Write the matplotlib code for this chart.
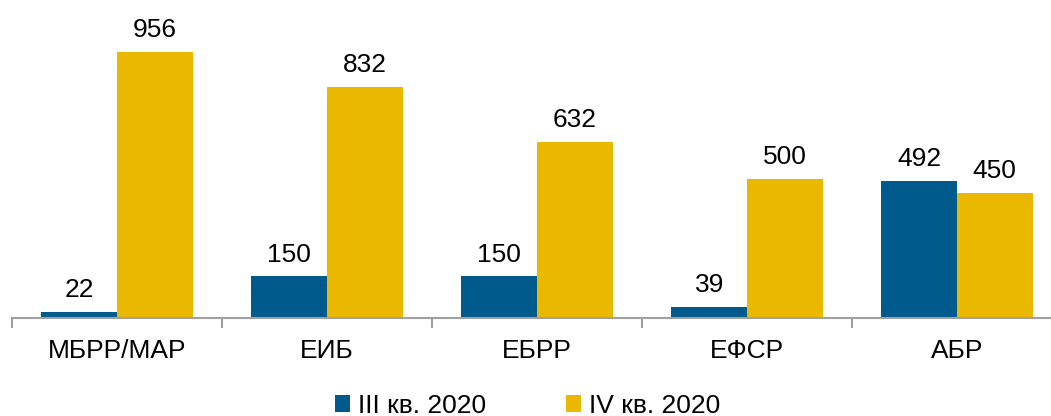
import matplotlib.pyplot as plt
import numpy as np

plt.rcParams['font.family'] = ['Liberation Sans', 'DejaVu Sans']

categories = ['МБРР/МАР', 'ЕИБ', 'ЕБРР', 'ЕФСР', 'АБР']
q3_2020 = [22, 150, 150, 39, 492]
q4_2020 = [956, 832, 632, 500, 450]
series_names = ['III кв. 2020', 'IV кв. 2020']

blue = '#005a8c'
yellow = '#ebb800'

fig = plt.figure(figsize=(10.51, 4.16), dpi=100)
ax = fig.add_axes([12 / 1051, 98 / 416, 1050 / 1051, 318 / 416])

x = np.arange(len(categories))
w = 0.36
b1 = ax.bar(x - w / 2, q3_2020, w, color=blue, label=series_names[0])
b2 = ax.bar(x + w / 2, q4_2020, w, color=yellow, label=series_names[1])

for bars in (b1, b2):
    for r in bars:
        ax.annotate(f'{r.get_height():.0f}', (r.get_x() + r.get_width() / 2, r.get_height()),
                    xytext=(0, 7), textcoords='offset points', ha='center', va='bottom',
                    fontsize=19)

ax.set_xlim(-0.5, 4.5)
ax.set_ylim(0, 1143)

for s in ['top', 'right', 'left']:
    ax.spines[s].set_visible(False)
ax.spines['bottom'].set_color('#a0a0a0')
ax.spines['bottom'].set_linewidth(1.5)
ax.set_yticks([])

ax.set_xticks(x)
ax.set_xticklabels(categories, fontsize=19)
ax.tick_params(axis='x', which='major', length=0, pad=15)
ax.set_xticks(np.arange(-0.5, 5, 1), minor=True)
ax.tick_params(axis='x', which='minor', length=7, width=1.5, color='#a0a0a0')

fig.legend(loc='center', bbox_to_anchor=(0.502, 0.025), ncol=2, frameon=False,
           fontsize=19, handlelength=0.6, handleheight=0.6, handletextpad=0.3,
           columnspacing=3.0)

fig.savefig('out.png', dpi=100)
